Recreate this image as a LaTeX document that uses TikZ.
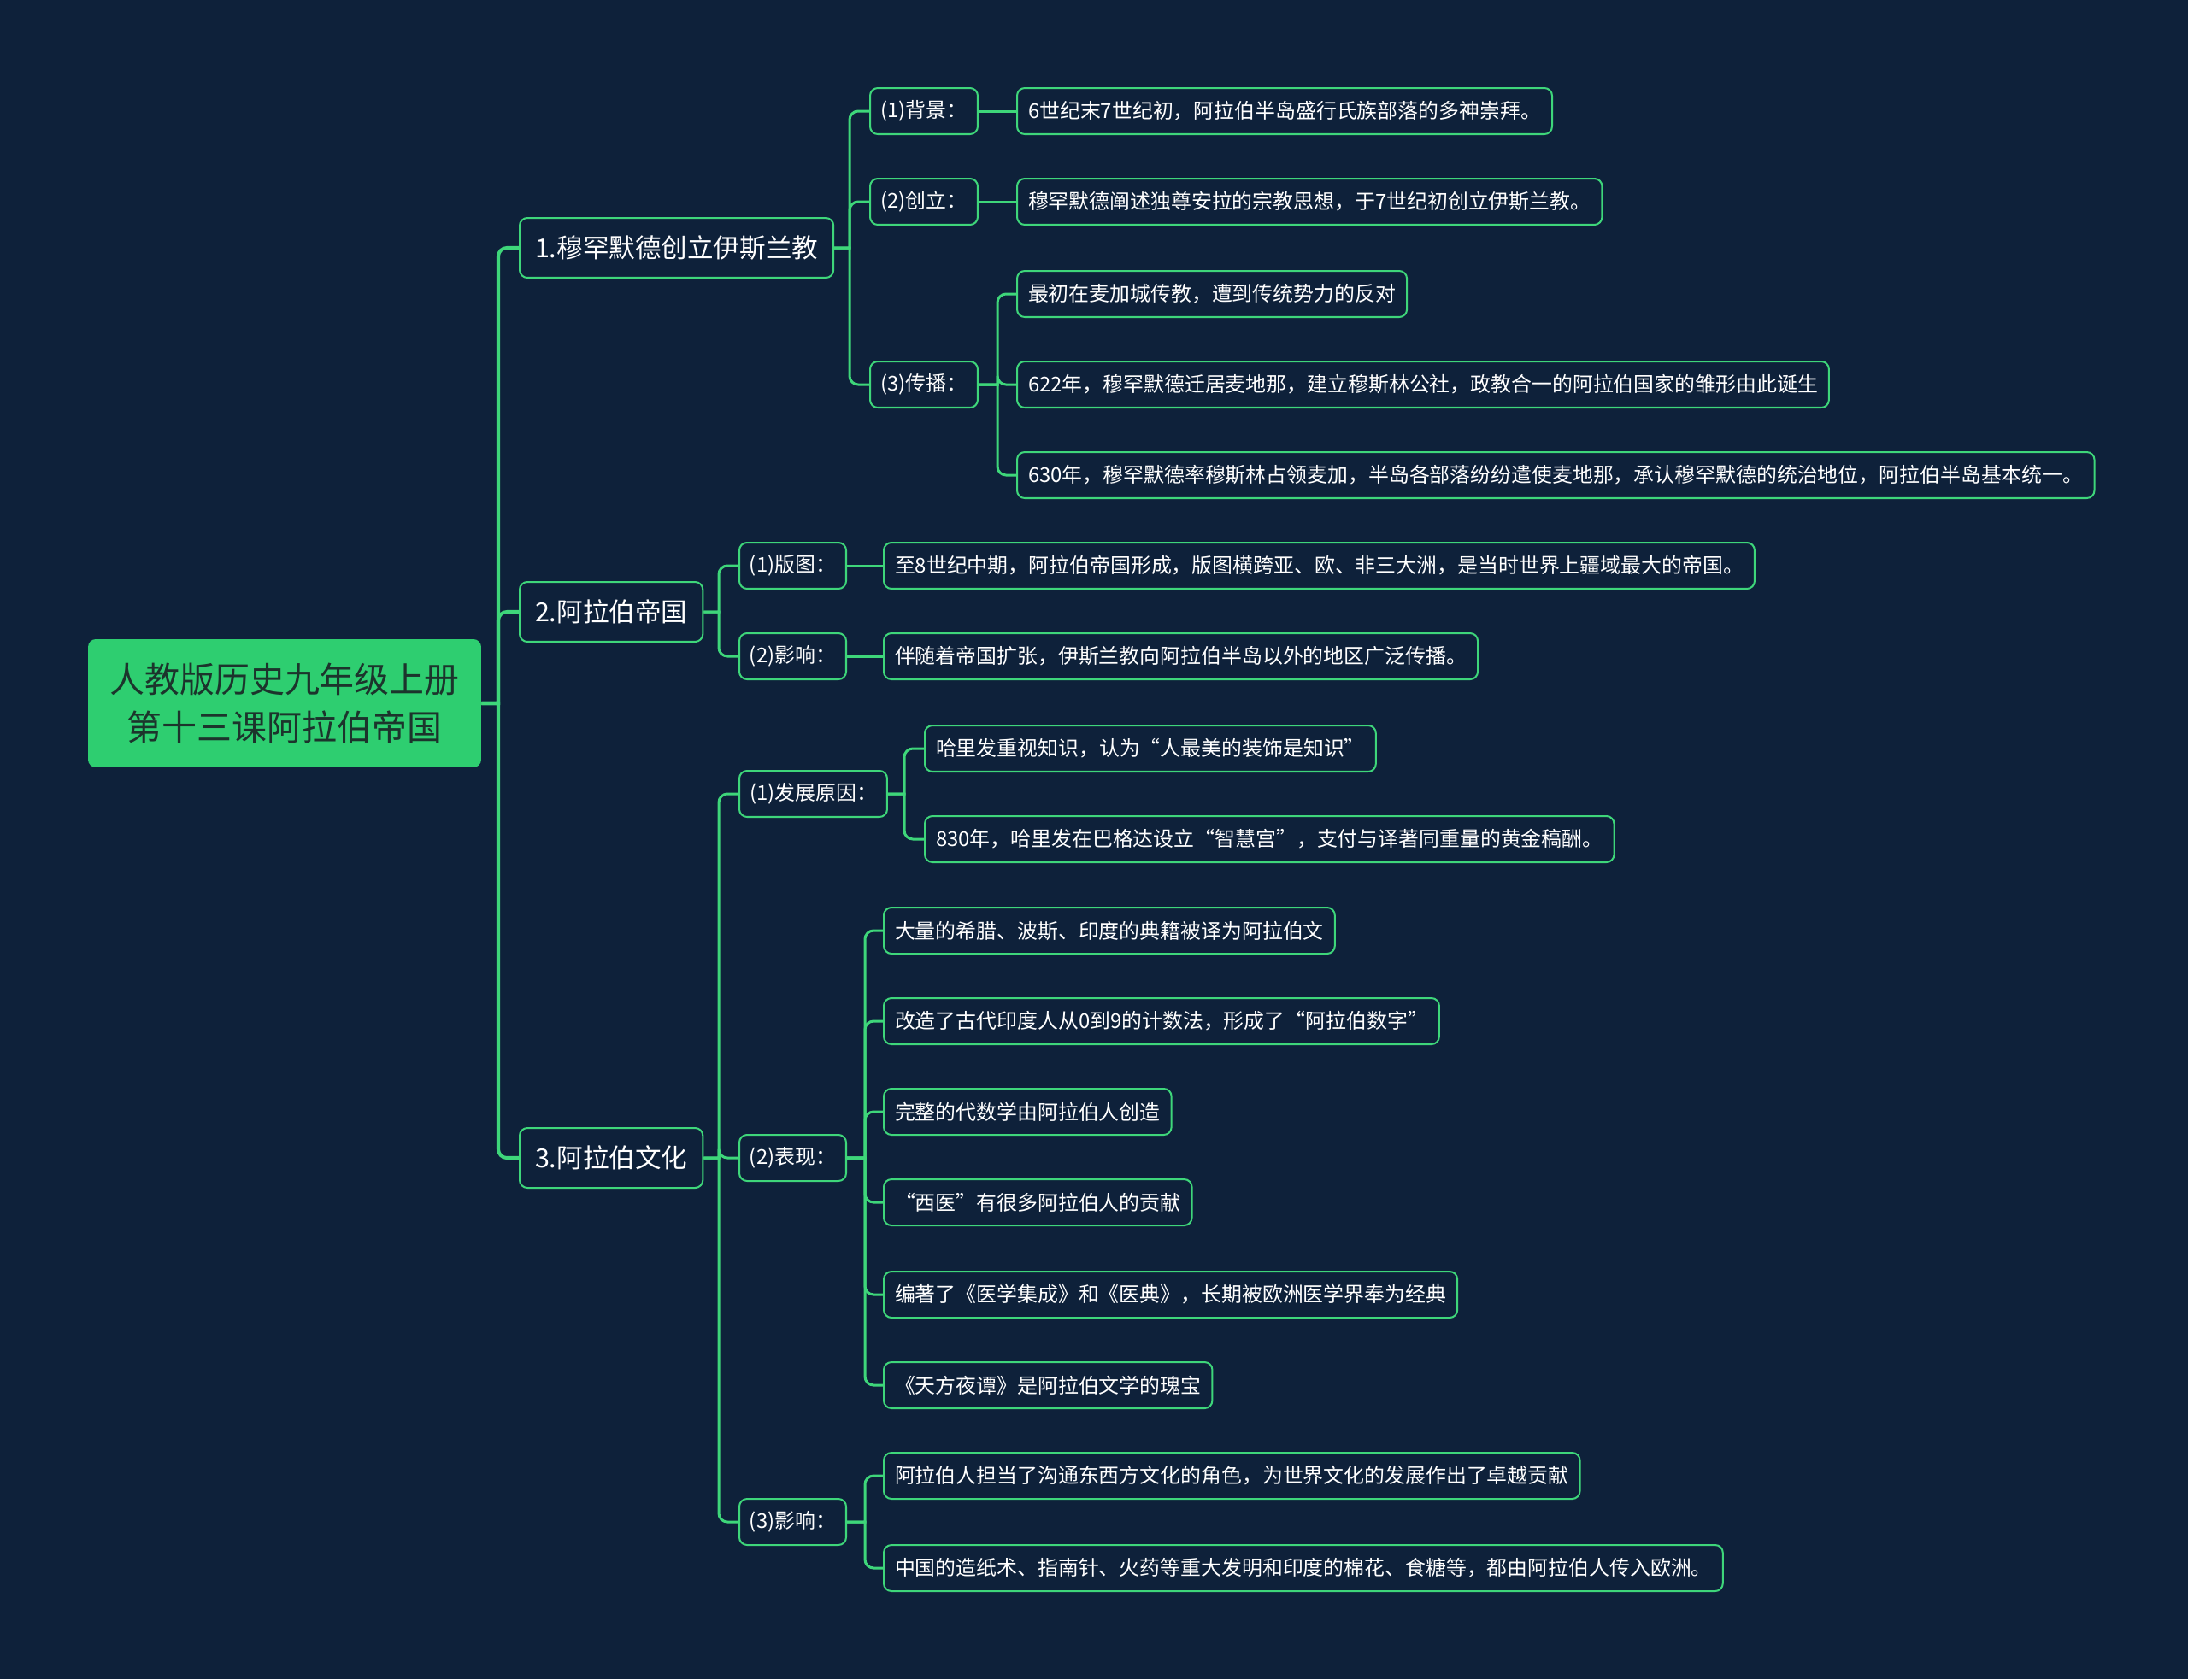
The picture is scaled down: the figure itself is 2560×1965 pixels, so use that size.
\documentclass[tikz,border=0pt]{standalone}
\usepackage{fontspec}
\newfontfamily\cjk{Noto Sans CJK SC}
\usepackage{tikz}
\definecolor{nightbg}{RGB}{14,33,58}
\definecolor{mintline}{RGB}{62,214,122}
\definecolor{rootgreen}{RGB}{46,206,112}
\definecolor{rootink}{RGB}{28,52,44}

\begin{document}
\begin{tikzpicture}[
  x=0.02cm, y=-0.02cm,
  root/.style={fill=rootgreen, rounded corners=0.18cm, minimum width=9.2cm,
    minimum height=3cm, align=center, text=rootink,
    font=\cjk\fontsize{23.3}{31.9}\selectfont},
  box/.style={draw=mintline, line width=1.15pt, fill=nightbg, rounded corners=0.18cm,
    text=white, anchor=west},
  topic/.style={box, minimum height=1.4cm, inner xsep=0.36cm,
    font=\cjk\fontsize{17.4}{20}\selectfont},
  sub/.style={box, minimum height=1.08cm, inner xsep=0.22cm,
    font=\cjk\fontsize{13.6}{16}\selectfont},
  leaf/.style={box, minimum height=1.08cm, inner xsep=0.26cm,
    font=\cjk\fontsize{13.6}{16}\selectfont},
  trunk/.style={draw=mintline, line width=2.3pt},
  link/.style={draw=mintline, line width=1.7pt}
]

% 背景
\fill[nightbg] (0,0) rectangle (2560,1965);
\useasboundingbox (0,0) rectangle (2560,1965);

% 中心主题
\node[root] (root) at (333,823) {人教版历史九年级上册\\第十三课阿拉伯帝国};

% 一级分支
\node[topic] (islam) at (607,290) {1.穆罕默德创立伊斯兰教};
\node[topic] (empire) at (607,716) {2.阿拉伯帝国};
\node[topic] (culture) at (607,1355) {3.阿拉伯文化};

% 二级分支
\node[sub, minimum width=2.52cm] (bg) at (1017,130) {(1)背景：};
\node[sub, minimum width=2.52cm] (cl) at (1017,236) {(2)创立：};
\node[sub, minimum width=2.52cm] (cb) at (1017,450) {(3)传播：};
\node[sub, minimum width=2.5cm] (bt) at (864,662) {(1)版图：};
\node[sub, minimum width=2.5cm] (yx) at (864,768) {(2)影响：};
\node[sub, minimum width=3.46cm] (fz) at (864,929) {(1)发展原因：};
\node[sub, minimum width=2.5cm] (bx) at (864,1355) {(2)表现：};
\node[sub, minimum width=2.5cm] (yxc) at (864,1781) {(3)影响：};

% 内容
\node[leaf] (bgA) at (1189,130) {6世纪末7世纪初，阿拉伯半岛盛行氏族部落的多神崇拜。};
\node[leaf] (clA) at (1189,236) {穆罕默德阐述独尊安拉的宗教思想，于7世纪初创立伊斯兰教。};
\node[leaf] (cbA) at (1189,344) {最初在麦加城传教，遭到传统势力的反对};
\node[leaf] (cbB) at (1189,450) {622年，穆罕默德迁居麦地那，建立穆斯林公社，政教合一的阿拉伯国家的雏形由此诞生};
\node[leaf] (cbC) at (1189,556) {630年，穆罕默德率穆斯林占领麦加，半岛各部落纷纷遣使麦地那，承认穆罕默德的统治地位，阿拉伯半岛基本统一。};
\node[leaf] (btA) at (1033,662) {至8世纪中期，阿拉伯帝国形成，版图横跨亚、欧、非三大洲，是当时世界上疆域最大的帝国。};
\node[leaf] (yxA) at (1033,768) {伴随着帝国扩张，伊斯兰教向阿拉伯半岛以外的地区广泛传播。};
\node[leaf] (fzA) at (1081,876) {哈里发重视知识，认为“人最美的装饰是知识”};
\node[leaf] (fzB) at (1081,982) {830年，哈里发在巴格达设立“智慧宫”，支付与译著同重量的黄金稿酬。};
\node[leaf] (bxA) at (1033,1089) {大量的希腊、波斯、印度的典籍被译为阿拉伯文};
\node[leaf] (bxB) at (1033,1195) {改造了古代印度人从0到9的计数法，形成了“阿拉伯数字”};
\node[leaf] (bxC) at (1033,1301) {完整的代数学由阿拉伯人创造};
\node[leaf] (bxD) at (1033,1407) {“西医”有很多阿拉伯人的贡献};
\node[leaf] (bxE) at (1033,1515) {编著了《医学集成》和《医典》，长期被欧洲医学界奉为经典};
\node[leaf] (bxF) at (1033,1621) {《天方夜谭》是阿拉伯文学的瑰宝};
\node[leaf] (yxcA) at (1033,1727) {阿拉伯人担当了沟通东西方文化的角色，为世界文化的发展作出了卓越贡献};
\node[leaf] (yxcB) at (1033,1835) {中国的造纸术、指南针、火药等重大发明和印度的棉花、食糖等，都由阿拉伯人传入欧洲。};

% 分叉点
\coordinate (t0) at (583,0);
\coordinate (t1) at (994,0);
\coordinate (t2) at (1167,0);
\coordinate (t3) at (841,0);
\coordinate (t4) at (1058,0);
\coordinate (t5) at (1012,0);

% 连线
\foreach \c in {islam,empire,culture}
  \draw[trunk] (root.east) -- (root.east -| t0) [rounded corners=0.2cm] |- (\c.west);
\foreach \c in {bg,cl,cb}
  \draw[link] (islam.east) -- (islam.east -| t1) [rounded corners=0.2cm] |- (\c.west);
\foreach \c in {bt,yx}
  \draw[link] (empire.east) -- (empire.east -| t3) [rounded corners=0.2cm] |- (\c.west);
\foreach \c in {fz,bx,yxc}
  \draw[link] (culture.east) -- (culture.east -| t3) [rounded corners=0.2cm] |- (\c.west);
\draw[link] (bg) -- (bgA);
\draw[link] (cl) -- (clA);
\foreach \c in {cbA,cbB,cbC}
  \draw[link] (cb.east) -- (cb.east -| t2) [rounded corners=0.2cm] |- (\c.west);
\draw[link] (bt) -- (btA);
\draw[link] (yx) -- (yxA);
\foreach \c in {fzA,fzB}
  \draw[link] (fz.east) -- (fz.east -| t4) [rounded corners=0.2cm] |- (\c.west);
\foreach \c in {bxA,bxB,bxC,bxD,bxE,bxF}
  \draw[link] (bx.east) -- (bx.east -| t5) [rounded corners=0.2cm] |- (\c.west);
\foreach \c in {yxcA,yxcB}
  \draw[link] (yxc.east) -- (yxc.east -| t5) [rounded corners=0.2cm] |- (\c.west);

\end{tikzpicture}
\end{document}
